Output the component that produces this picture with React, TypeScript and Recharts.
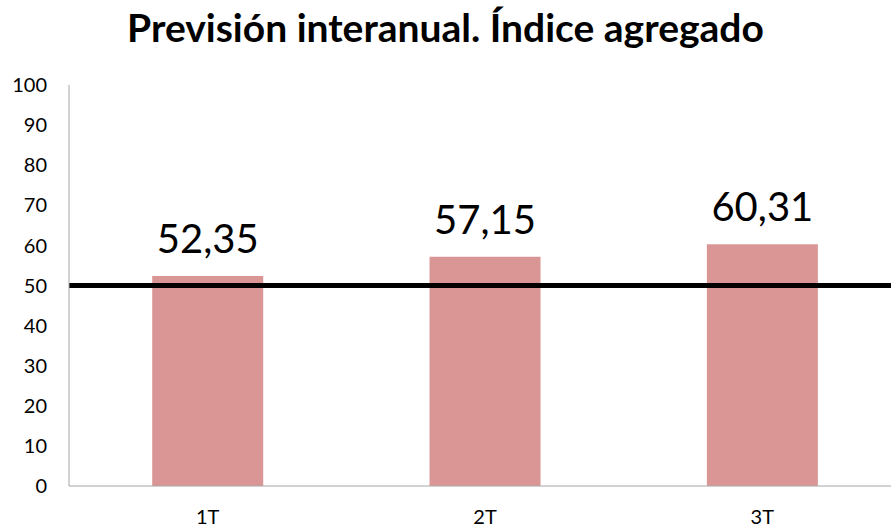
import { Bar, BarChart, LabelList, ReferenceLine, XAxis, YAxis } from "recharts";

const TITLE = "Previsión interanual. Índice agregado";
const QUARTERS = ["1T", "2T", "3T"];
const INDEX_VALUES = [52.35, 57.15, 60.31];
const Y_TICKS = [0, 10, 20, 30, 40, 50, 60, 70, 80, 90, 100];
const THRESHOLD = 50;

const FONT = "Lato, 'Open Sans', sans-serif";

const rows = QUARTERS.map((q, i) => ({ label: q, value: INDEX_VALUES[i] }));

// Spanish decimal comma
const fmt = (v: unknown) => String(v).replace(".", ",");

export default function App() {
  return (
    <div style={{ position: "absolute", left: 0, top: 0, width: 891, height: 528, background: "#fff", overflow: "hidden", fontFamily: FONT }}>
      <div
        style={{
          position: "absolute",
          top: 4,
          left: 0,
          width: 891,
          textAlign: "center",
          fontSize: 39,
          lineHeight: 1.2,
          fontWeight: 700,
          color: "#000",
        }}
      >
        {TITLE}
      </div>
      <BarChart
        width={901}
        height={528}
        data={rows}
        barCategoryGap="30%"
        margin={{ top: 85, right: 0, left: 0, bottom: 0 }}
      >
        <XAxis
          dataKey="label"
          height={42}
          tick={{ fill: "#000", fontSize: 20, fontFamily: FONT }}
          tickLine={false}
          tickMargin={18}
          axisLine={{ stroke: "#a6a6a6" }}
        />
        <YAxis
          domain={[0, 100]}
          ticks={Y_TICKS}
          width={69}
          interval={0}
          tick={{ fill: "#000", fontSize: 20, fontFamily: FONT }}
          tickLine={false}
          tickMargin={16}
          axisLine={{ stroke: "#a6a6a6" }}
        />
        <Bar dataKey="value" fill="#d99694" isAnimationActive={false}>
          <LabelList
            dataKey="value"
            position="top"
            offset={23}
            formatter={fmt}
            style={{ fontSize: 40, fill: "#000", fontFamily: FONT }}
          />
        </Bar>
        <ReferenceLine y={THRESHOLD} stroke="#000" strokeWidth={5} />
      </BarChart>
    </div>
  );
}
